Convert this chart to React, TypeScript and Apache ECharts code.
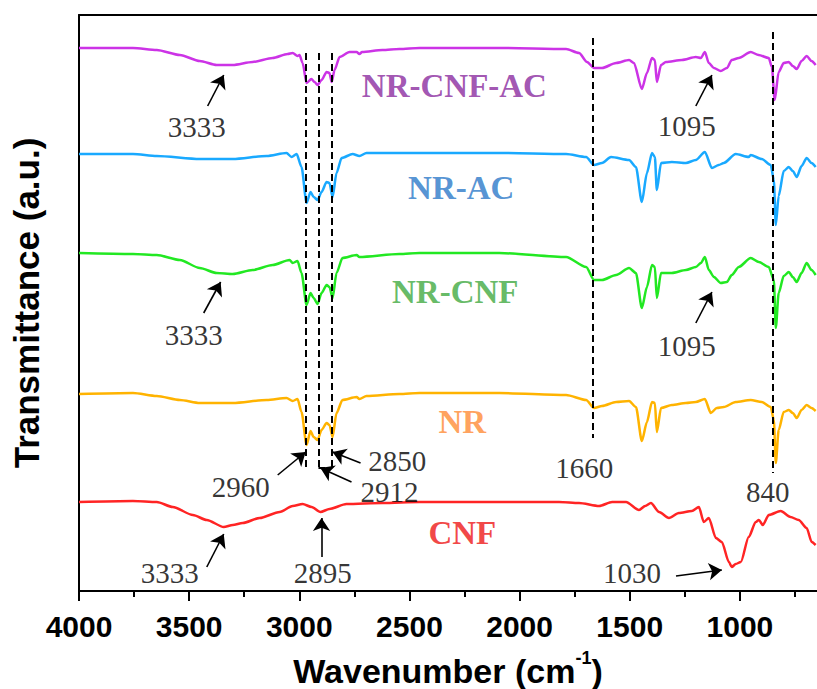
import React, { useEffect, useRef } from "react";
import * as echarts from "echarts";

// ---- axis ticks ----
const majorTicks = [4000, 3500, 3000, 2500, 2000, 1500, 1000];
const minorTicks = [3750, 3250, 2750, 2250, 1750, 1250, 750];

// ---- spectra: [wavenumber (cm-1), transmittance (a.u., offset)] ----
const nrCnfAc = [
  [4000, 543], [3755, 543], [3647, 541], [3542, 536], [3452, 530], [3375, 526], [3302, 526], [3212, 529],
  [3121, 533], [3053, 537], [3030, 538], [3008, 535], [2999, 536], [2985, 528], [2967, 508], [2945, 512],
  [2931, 509], [2917, 506], [2899, 511], [2876, 519], [2863, 518], [2853, 509], [2840, 521], [2817, 534],
  [2772, 539], [2740, 539], [2727, 537], [2715, 539], [2623, 541], [2546, 542], [2455, 543], [2092, 543],
  [1789, 542], [1730, 538], [1694, 529], [1662, 523], [1626, 523], [1562, 528], [1503, 531], [1481, 528],
  [1445, 502], [1422, 518], [1399, 533], [1386, 531], [1377, 509], [1358, 526], [1336, 529], [1263, 531],
  [1200, 534], [1177, 533], [1159, 539], [1141, 528], [1118, 523], [1087, 520], [1059, 523], [1037, 531],
  [1005, 533], [951, 539], [915, 536], [869, 533], [855, 524], [842, 491], [824, 519], [801, 528],
  [778, 529], [760, 525], [742, 522], [720, 530], [697, 535], [675, 530], [656, 526],
];
const nrAc = [
  [4000, 437], [3755, 437], [3647, 435], [3452, 432], [3302, 432], [3148, 435], [3058, 438], [3035, 434],
  [3012, 437], [2990, 424], [2967, 388], [2949, 399], [2935, 394], [2917, 391], [2899, 399], [2876, 409],
  [2863, 408], [2849, 394], [2831, 418], [2808, 433], [2758, 437], [2727, 435], [2695, 438], [2546, 438],
  [2455, 438], [2092, 438], [1789, 437], [1698, 434], [1662, 426], [1626, 428], [1585, 434], [1503, 431],
  [1472, 424], [1445, 389], [1422, 418], [1399, 438], [1386, 434], [1377, 401], [1358, 428], [1309, 429],
  [1245, 428], [1200, 431], [1159, 439], [1127, 423], [1096, 426], [1073, 428], [1019, 437], [960, 434],
  [951, 436], [901, 432], [860, 426], [846, 411], [837, 366], [824, 395], [801, 420], [778, 424],
  [760, 420], [742, 414], [720, 425], [697, 433], [675, 428], [656, 424],
];
const nrCnf = [
  [4000, 338], [3755, 337], [3647, 336], [3542, 331], [3452, 323], [3375, 318], [3302, 317], [3212, 321],
  [3121, 326], [3044, 331], [3030, 328], [3008, 330], [2990, 318], [2967, 286], [2949, 298], [2935, 293],
  [2917, 287], [2899, 298], [2876, 306], [2863, 304], [2849, 293], [2831, 318], [2804, 333], [2740, 336],
  [2727, 334], [2546, 337], [2455, 338], [2092, 338], [1789, 334], [1698, 324], [1662, 311], [1626, 311],
  [1562, 316], [1503, 323], [1472, 318], [1445, 283], [1422, 304], [1399, 326], [1386, 324], [1377, 293],
  [1358, 318], [1309, 318], [1245, 321], [1200, 324], [1177, 328], [1159, 334], [1141, 321], [1118, 314],
  [1087, 308], [1059, 309], [1037, 316], [1005, 324], [951, 333], [914, 329], [869, 324], [846, 311],
  [837, 263], [824, 298], [801, 315], [778, 319], [760, 314], [742, 309], [720, 318], [697, 328],
  [675, 321], [656, 316],
];
const nr = [
  [4000, 197], [3755, 198], [3647, 195], [3542, 191], [3452, 188], [3302, 188], [3148, 191], [3058, 193],
  [3030, 190], [3008, 192], [2990, 179], [2967, 146], [2949, 160], [2935, 154], [2917, 151], [2899, 161],
  [2876, 168], [2863, 166], [2849, 154], [2831, 178], [2804, 191], [2740, 194], [2727, 192], [2695, 195],
  [2546, 197], [2455, 198], [2092, 198], [1789, 196], [1698, 191], [1662, 183], [1626, 185], [1562, 189],
  [1503, 190], [1472, 184], [1445, 150], [1422, 169], [1399, 189], [1386, 188], [1377, 159], [1358, 183],
  [1309, 186], [1245, 188], [1200, 189], [1159, 192], [1132, 178], [1105, 183], [1073, 184], [1019, 189],
  [951, 191], [901, 189], [860, 184], [846, 171], [837, 128], [824, 161], [801, 179], [778, 181],
  [760, 178], [742, 173], [720, 181], [697, 186], [675, 183], [656, 180],
];
const cnf = [
  [4000, 89], [3755, 90], [3647, 89], [3574, 84], [3483, 76], [3420, 71], [3343, 64], [3302, 66],
  [3257, 68], [3180, 73], [3089, 79], [3030, 85], [2985, 87], [2944, 84], [2904, 79], [2863, 82],
  [2786, 87], [2623, 88], [2455, 89], [2092, 89], [1821, 89], [1730, 88], [1639, 85], [1580, 89],
  [1517, 89], [1458, 81], [1430, 85], [1404, 88], [1367, 79], [1322, 73], [1277, 78], [1218, 80],
  [1186, 84], [1164, 69], [1141, 73], [1109, 53], [1082, 49], [1050, 29], [1037, 24], [1019, 27],
  [996, 29], [960, 54], [928, 69], [914, 71], [896, 66], [869, 76], [815, 80], [770, 74],
  [733, 71], [697, 63], [674, 49], [656, 46],
];

const sampleNames = ["NR-CNF-AC", "NR-AC", "NR-CNF", "NR", "CNF"];
const sampleData = [nrCnfAc, nrAc, nrCnf, nr, cnf];
const lineColors = ["#cc33e6", "#19a9ff", "#22e822", "#ffb300", "#ff2424"];
const labelColors = ["#8a2a9e", "#2a78c8", "#3ea83e", "#ff8a33", "#ee1515"];
// sample name positions [wavenumber, a.u.]
const sampleLabelPos = [[2296, 505], [2265, 403], [2292, 299], [2260, 169], [2260, 58]];

// dashed guide lines: [wavenumber, top a.u., bottom a.u.]
const guideLines = [
  [2971, 538, 123], [2913, 538, 123], [2854, 538, 123], [1667, 553, 153], [851, 559, 118],
];
const guideBracket = [[2913, 123], [2854, 123]];

// peak annotations
const peakTexts = ["3333", "3333", "1095", "1095", "2960", "2850", "2912", "2895", "3333", "1660", "840", "1030"];
const peakTextPos = [
  [3465, 464], [3479, 256], [1241, 465], [1241, 245], [3266, 104], [2555, 130],
  [2591, 99], [2894, 18], [3588, 18], [1707, 123], [874, 99], [1490, 18],
];
// arrows: [from w, from v, to w, to v]
const arrows = [
  [3416, 485, 3343, 516], [3434, 278, 3357, 309], [1200, 485, 1127, 516], [1200, 268, 1127, 299],
  [3098, 116, 2971, 139], [2722, 128, 2849, 139], [2763, 109, 2904, 123], [2899, 34, 2899, 73],
  [3420, 24, 3343, 57], [1290, 15, 1082, 21],
];

const sans = "'Liberation Sans', Arial, sans-serif";
const serif = "'Liberation Serif', 'Times New Roman', serif";

export default function App() {
  const ref = useRef<HTMLDivElement>(null);
  useEffect(() => {
    if (!ref.current) return;
    const chart = echarts.init(ref.current, undefined, { renderer: "svg" });
    const lineSeries: any[] = sampleNames.map((name, i) => ({
      name,
      type: "line",
      data: sampleData[i],
      showSymbol: false,
      symbol: "none",
      smooth: 0.25,
      smoothMonotone: "x",
      lineStyle: { color: lineColors[i], width: 2.5 },
      itemStyle: { color: lineColors[i] },
      z: 3,
    }));
    lineSeries[0].markLine = {
      silent: true,
      symbol: ["none", "none"],
      label: { show: false },
      lineStyle: { type: [7, 4], color: "#000", width: 2 },
      data: [
        ...guideLines.map((g) => [{ coord: [g[0], g[1]] }, { coord: [g[0], g[2]] }]),
        [{ coord: guideBracket[0] }, { coord: guideBracket[1] }],
      ],
    };
    lineSeries[1].markLine = {
      silent: true,
      symbol: ["none", "arrow"],
      symbolSize: 13,
      label: { show: false },
      lineStyle: { type: "solid", color: "#000", width: 1.6 },
      itemStyle: { color: "#000" },
      data: arrows.map((a) => [{ coord: [a[0], a[1]] }, { coord: [a[2], a[3]] }]),
    };
    const labelSeries = {
      type: "scatter",
      symbolSize: 1,
      itemStyle: { color: "rgba(0,0,0,0)" },
      silent: true,
      z: 5,
      data: [
        ...peakTexts.map((t, i) => ({
          name: t,
          value: peakTextPos[i],
          label: {
            show: true, position: "inside", formatter: "{b}",
            fontFamily: serif, fontSize: 29, color: "#000",
          },
        })),
        ...sampleNames.map((t, i) => ({
          name: t,
          value: sampleLabelPos[i],
          label: {
            show: true, position: "inside", formatter: "{b}",
            fontFamily: serif, fontSize: 33, fontWeight: "bold", color: labelColors[i],
          },
        })),
      ],
    };
    chart.setOption({
      animation: false,
      grid: { left: 79, right: 0, top: 15, bottom: 98, containLabel: false, outerBoundsMode: "none" },
      xAxis: [
        {
          type: "value", min: 650, max: 4000, inverse: true, position: "bottom",
          axisLine: { show: true, onZero: false, lineStyle: { color: "#000", width: 2 } },
          axisTick: { show: true, inside: false, length: 10, lineStyle: { color: "#000", width: 2 }, customValues: majorTicks },
          axisLabel: {
            show: true, customValues: majorTicks, margin: 20, color: "#000",
            fontSize: 30, fontWeight: "bold", fontFamily: sans,
            formatter: (v: number) => String(v),
          },
          splitLine: { show: false },
          name: "{a|Wavenumber (cm}{s|-1}{a|)}",
          nameLocation: "middle",
          nameGap: 58,
          nameTextStyle: {
            rich: {
              a: { fontSize: 34, fontWeight: "bold", fontFamily: sans, color: "#000", lineHeight: 44 },
              s: { fontSize: 18, fontWeight: "bold", fontFamily: sans, color: "#000", lineHeight: 18, verticalAlign: "top" },
            },
          },
        },
        {
          type: "value", min: 650, max: 4000, inverse: true, position: "bottom",
          axisLine: { show: false, onZero: false },
          axisTick: { show: true, inside: false, length: 6, lineStyle: { color: "#000", width: 2 }, customValues: minorTicks },
          axisLabel: { show: false },
          splitLine: { show: false },
        },
        {
          type: "value", min: 650, max: 4000, inverse: true, position: "top",
          axisLine: { show: true, onZero: false, lineStyle: { color: "#000", width: 2 } },
          axisTick: { show: false },
          axisLabel: { show: false },
          splitLine: { show: false },
        },
      ],
      yAxis: {
        type: "value", min: 0, max: 576,
        axisLine: { show: true, onZero: false, lineStyle: { color: "#000", width: 2 } },
        axisTick: { show: false },
        axisLabel: { show: false },
        splitLine: { show: false },
        name: "Transmittance (a.u.)",
        nameLocation: "middle",
        nameGap: 35,
        nameTextStyle: { fontSize: 35, fontWeight: "bold", fontFamily: sans, color: "#000" },
      },
      series: [...lineSeries, labelSeries],
    });
    return () => chart.dispose();
  }, []);
  return (
    <div
      ref={ref}
      style={{ position: "absolute", left: 0, top: 0, width: 817, height: 689, background: "#fff" }}
    />
  );
}
